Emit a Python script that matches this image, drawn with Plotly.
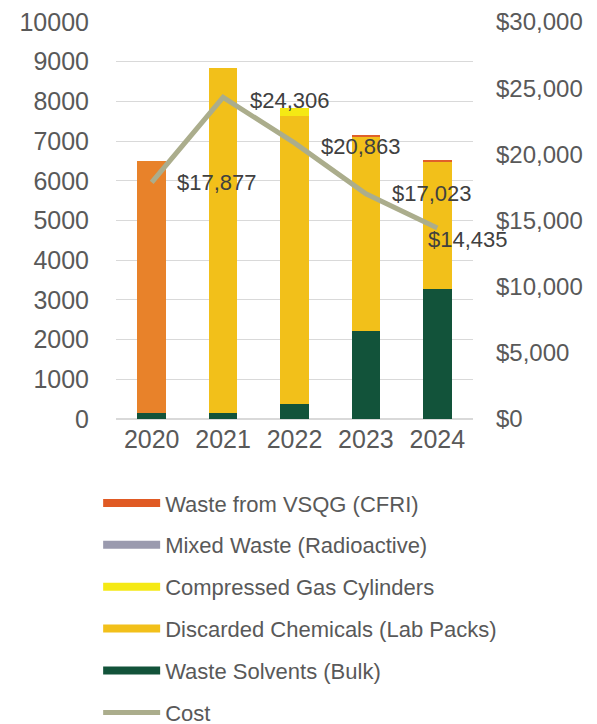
"""Hazardous waste volumes by category with disposal cost (2020-2024)."""
import plotly.graph_objects as go

FONT = 'Liberation Sans, Arial, sans-serif'
TICK_COLOR = '#595959'

years = ['2020', '2021', '2022', '2023', '2024']
waste_solvents = [150, 150, 380, 2210, 3280]
discarded_chemicals = [0, 8700, 7250, 4900, 3200]
compressed_gas = [0, 0, 200, 0, 0]
mixed_waste = [0, 0, 0, 0, 0]
waste_vsqg = [6350, 0, 0, 30, 50]
cost = [17877, 24306, 20863, 17023, 14435]
cost_labels = ['$17,877', '$24,306', '$20,863', '$17,023', '$14,435']

series = [
    ('Waste Solvents (Bulk)', waste_solvents, '#12533A'),
    ('Discarded Chemicals (Lab Packs)', discarded_chemicals, '#F2C01A'),
    ('Compressed Gas Cylinders', compressed_gas, '#F5E914'),
    ('Mixed Waste (Radioactive)', mixed_waste, '#9A9AAE'),
    ('Waste from VSQG (CFRI)', waste_vsqg, '#E05A24'),
]
vsqg_bar_colors = ['#E8822A', '#E0602A', '#E0602A', '#E0602A', '#E0602A']
COST_COLOR = '#ABAD8C'

fig = go.Figure()
n = len(series)
for i, (name, vals, color) in enumerate(series):
    bar_color = vsqg_bar_colors if name.startswith('Waste from') else color
    fig.add_trace(go.Bar(x=years, y=vals, name=name, marker_color=bar_color,
                         marker_line_width=0, showlegend=False))
    # legend entry drawn as a thick line like the original
    fig.add_trace(go.Scatter(x=[years[0]], y=[None], mode='lines', name=name,
                             line=dict(color=color, width=8),
                             legendrank=n - i, legendgroup=name))

fig.add_trace(go.Scatter(x=years, y=cost, yaxis='y2', mode='lines', name='Cost',
                         line=dict(color=COST_COLOR, width=5),
                         legendrank=n + 1, legendgroup='Cost'))

# annotations on a category axis: use the category index
shifts = [(23, 0), (25, -3), (24, -4), (24, 0), (-11, -12)]
for idx, (c, lab, (dx, dy)) in enumerate(zip(cost, cost_labels, shifts)):
    fig.add_annotation(x=idx, y=c, yref='y2', text=lab, showarrow=False,
                       xanchor='left', yanchor='middle', xshift=dx, yshift=dy,
                       font=dict(family=FONT, size=22, color='#404040'))

fig.update_layout(
    width=597, height=724,
    margin=dict(l=116, r=124, t=22, b=305, autoexpand=False),
    paper_bgcolor='white', plot_bgcolor='white',
    barmode='stack', bargap=0.6,
    font=dict(family=FONT, color=TICK_COLOR),
    xaxis=dict(type='category', range=[-0.5, 4.5],
               tickfont=dict(size=25, color=TICK_COLOR), ticks='',
               ticklabelstandoff=3, showline=False),
    yaxis=dict(range=[0, 10000], dtick=1000, tickformat='d',
               tickfont=dict(size=25, color=TICK_COLOR),
               showgrid=True, gridcolor='#D9D9D9', gridwidth=1,
               zeroline=True, zerolinecolor='#D9D9D9', ticklabelstandoff=26),
    yaxis2=dict(range=[0, 30000], dtick=5000, tickformat='$,.0f',
                overlaying='y', side='right', showgrid=False, zeroline=False,
                tickfont=dict(size=24, color=TICK_COLOR), ticklabelstandoff=22),
    legend=dict(orientation='v', x=-0.05, xanchor='left', y=-0.159, yanchor='top',
                traceorder='grouped', tracegroupgap=10.3, itemwidth=57,
                font=dict(family=FONT, size=22, color=TICK_COLOR),
                bgcolor='rgba(0,0,0,0)'),
)

fig.write_html('out.html', config={'displayModeBar': False},
               post_script="document.body.style.margin='0';")
